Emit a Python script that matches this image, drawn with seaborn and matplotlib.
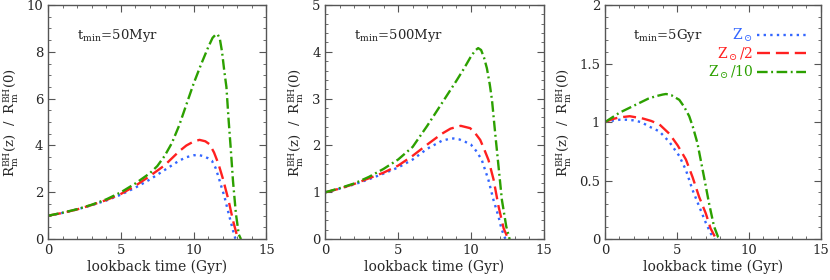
import numpy as np
import pandas as pd
import matplotlib
matplotlib.use("Agg")
import matplotlib.pyplot as plt
import seaborn as sns
from matplotlib.ticker import MultipleLocator, FormatStrFormatter

# -----------------------------
# Data
# -----------------------------
panel_titles = [r"t$_{\rm min}$=50Myr", r"t$_{\rm min}$=500Myr", r"t$_{\rm min}$=5Gyr"]
series_labels = [r"Z$_\odot$", r"Z$_\odot$/2", r"Z$_\odot$/10"]

# t_min = 50 Myr
p1_blue_x = [0, 1, 2, 3, 4, 5, 6, 7, 8, 9, 9.5, 10, 10.3, 10.7, 11, 11.25, 11.5, 11.7, 11.9, 12.1, 12.4, 12.7, 12.85, 12.95]
p1_blue_y = [1.0, 1.12, 1.27, 1.45, 1.65, 1.9, 2.2, 2.55, 2.95, 3.35, 3.5, 3.58, 3.6, 3.54, 3.45, 3.35, 3.05, 2.67, 2.25, 1.85, 1.1, 0.38, 0.05, 0.0]
p1_red_x = [0, 1, 2, 3, 4, 5, 6, 7, 8, 9, 9.5, 10, 10.4, 10.8, 11.1, 11.4, 11.7, 12.0, 12.4, 12.7, 13.0, 13.1]
p1_red_y = [1.0, 1.12, 1.27, 1.46, 1.67, 1.93, 2.28, 2.7, 3.15, 3.75, 4.0, 4.17, 4.24, 4.18, 4.05, 3.7, 3.22, 2.6, 1.65, 0.8, 0.1, 0.0]
p1_green_x = [0, 1, 2, 3, 4, 5, 6, 7, 7.5, 8, 8.5, 9, 9.5, 10, 10.5, 11, 11.3, 11.5, 11.65, 11.8, 11.95, 12.1, 12.25, 12.4, 12.55, 12.7, 12.9, 13.1, 13.25]
p1_green_y = [1.0, 1.13, 1.28, 1.47, 1.7, 2.0, 2.38, 2.82, 3.12, 3.55, 4.1, 4.85, 5.75, 6.65, 7.45, 8.2, 8.6, 8.73, 8.75, 8.55, 8.0, 7.2, 6.5, 5.1, 3.85, 2.5, 1.1, 0.2, 0.0]

# t_min = 500 Myr
p2_blue_x = [0, 1, 2, 3, 4, 5, 6, 7, 8, 8.5, 8.8, 9.2, 9.6, 10, 10.4, 10.75, 11.2, 11.55, 11.9, 12.1, 12.35, 12.45]
p2_blue_y = [1.0, 1.08, 1.17, 1.28, 1.4, 1.53, 1.7, 1.93, 2.1, 2.14, 2.15, 2.13, 2.08, 2.02, 1.87, 1.69, 1.27, 0.84, 0.48, 0.22, 0.02, 0.0]
p2_red_x = [0, 1, 2, 3, 4, 5, 6, 7, 8, 8.6, 9.3, 9.95, 10.3, 10.64, 10.9, 11.21, 11.56, 11.9, 12.25, 12.5, 12.6]
p2_red_y = [1.0, 1.08, 1.18, 1.3, 1.42, 1.57, 1.78, 2.02, 2.25, 2.36, 2.42, 2.37, 2.26, 2.12, 1.93, 1.69, 1.27, 0.7, 0.23, 0.05, 0.0]
p2_green_x = [0, 1, 2, 3, 4, 5, 6, 7, 8, 9, 9.5, 10, 10.3, 10.5, 10.7, 10.9, 11.1, 11.3, 11.45, 11.67, 11.9, 12.13, 12.43, 12.66]
p2_green_y = [1.0, 1.09, 1.19, 1.33, 1.5, 1.7, 1.97, 2.42, 2.9, 3.38, 3.63, 3.9, 4.03, 4.08, 4.04, 3.88, 3.65, 3.3, 2.97, 2.26, 1.55, 0.84, 0.27, 0.0]

# t_min = 5 Gyr
p3_blue_x = [0, 0.5, 1.0, 1.5, 1.95, 2.5, 3.1, 3.78, 4.47, 5.16, 5.62, 6.08, 6.54, 7.0, 7.34, 7.6]
p3_blue_y = [1.0, 1.012, 1.02, 1.02, 1.015, 1.0, 0.96, 0.92, 0.83, 0.71, 0.59, 0.42, 0.28, 0.14, 0.05, 0.0]
p3_red_x = [0, 0.5, 1.0, 1.72, 2.64, 3.2, 3.78, 4.47, 5.05, 5.62, 6.08, 6.54, 7.0, 7.34, 7.68, 7.8]
p3_red_y = [1.0, 1.025, 1.04, 1.05, 1.03, 1.01, 0.98, 0.9, 0.8, 0.68, 0.53, 0.36, 0.22, 0.09, 0.01, 0.0]
p3_green_x = [0, 0.5, 1, 1.5, 2, 2.5, 3, 3.5, 4, 4.24, 4.6, 5.16, 5.5, 5.85, 6.1, 6.42, 6.88, 7.22, 7.57, 7.85, 8.05]
p3_green_y = [1.0, 1.04, 1.08, 1.11, 1.14, 1.17, 1.2, 1.22, 1.235, 1.24, 1.23, 1.19, 1.13, 1.05, 0.96, 0.82, 0.53, 0.31, 0.11, 0.02, 0.0]

panels = [
    [(p1_blue_x, p1_blue_y), (p1_red_x, p1_red_y), (p1_green_x, p1_green_y)],
    [(p2_blue_x, p2_blue_y), (p2_red_x, p2_red_y), (p2_green_x, p2_green_y)],
    [(p3_blue_x, p3_blue_y), (p3_red_x, p3_red_y), (p3_green_x, p3_green_y)],
]
y_max = [10, 5, 2]
y_major = [2, 1, 0.5]
y_minor = [0.5, 0.2, 0.1]

colors = ["#3366ff", "#ff2020", "#2ca000"]
styles = [(0, (1, 1.8)), (0, (5.5, 2.5)), (0, (4.5, 1.5, 0.8, 1.5))]

# -----------------------------
# Plot
# -----------------------------
sns.set_style("ticks")
plt.rcParams["font.family"] = ["DejaVu Serif"]
plt.rcParams["mathtext.fontset"] = "dejavuserif"

fig = plt.figure(figsize=(8.3, 2.8), dpi=100)
lefts = [0.058, 0.392, 0.729]
widths = [0.263, 0.263, 0.26]

for i, series in enumerate(panels):
    ax = fig.add_axes([lefts[i], 0.146, widths[i], 0.836])
    for j, (xs, ys) in enumerate(series):
        df = pd.DataFrame({"x": xs, "y": ys})
        sns.lineplot(data=df, x="x", y="y", ax=ax, color=colors[j],
                     linestyle=styles[j], linewidth=1.7, label=series_labels[j],
                     sort=False, estimator=None)

    ax.set_xlim(0, 15)
    ax.set_ylim(0, y_max[i])
    ax.xaxis.set_major_locator(MultipleLocator(5))
    ax.xaxis.set_minor_locator(MultipleLocator(1))
    ax.yaxis.set_major_locator(MultipleLocator(y_major[i]))
    ax.yaxis.set_minor_locator(MultipleLocator(y_minor[i]))
    ax.yaxis.set_major_formatter(FormatStrFormatter("%g"))
    ax.tick_params(which="both", direction="in", top=True, right=True,
                   labelsize=9.5, color="#555555")
    ax.tick_params(which="major", length=5, width=0.8)
    ax.tick_params(which="minor", length=2.5, width=0.6)
    for s in ax.spines.values():
        s.set_color("#555555")
        s.set_linewidth(1.0)

    ax.set_xlabel("lookback time (Gyr)", fontsize=10, labelpad=2)
    ax.set_ylabel(r"R$_{\rm m}^{\rm BH}$(z)  /  R$_{\rm m}^{\rm BH}$(0)", fontsize=9.5, labelpad=4)
    ax.text(0.13, 0.87, panel_titles[i], transform=ax.transAxes,
            fontsize=9.5, ha="left", va="center")

    if i == 2:
        leg = ax.legend(loc="upper right", bbox_to_anchor=(0.975, 0.95), frameon=False,
                        markerfirst=False, handlelength=3.5, handletextpad=0.3,
                        labelspacing=0.1, fontsize=10, borderaxespad=0.3)
        for t, c in zip(leg.get_texts(), colors):
            t.set_color(c)
    else:
        ax.get_legend().remove()

fig.savefig("out.png", dpi=100)
